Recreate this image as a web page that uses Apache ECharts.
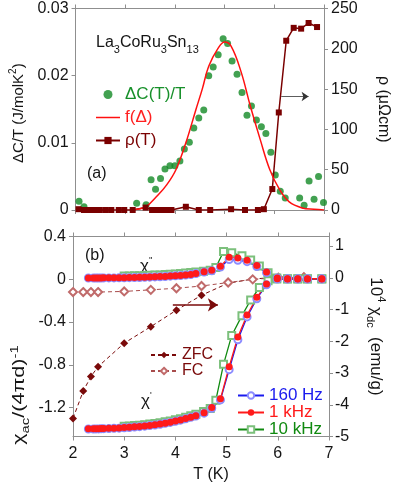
<!DOCTYPE html>
<html>
<head>
<meta charset="utf-8">
<script src="https://cdn.jsdelivr.net/npm/echarts@6/dist/echarts.min.js"></script>
<style>
html, body { margin: 0; padding: 0; background: #fff; }
#chart { width: 399px; height: 485px; }
</style>
</head>
<body>
<div id="chart"></div>
<script>
// ---- panel (a): specific heat, fit, resistivity ----
var dcT   = [2.07, 2.17, 3.23, 3.42, 3.52, 3.61, 3.71, 3.80, 3.90, 4.00, 4.10, 4.19, 4.29, 4.38, 4.48, 4.58, 4.68, 4.77, 4.87, 4.97, 5.06, 5.15, 5.25, 5.35, 5.45, 5.54, 5.64, 5.74, 5.83, 5.93, 6.02, 6.12, 6.22, 6.51, 6.60, 6.70, 6.80, 6.89, 6.99];
var dcVal = [0.0013, 0.0005, 0.0010, 0.0008, 0.0045, 0.0031, 0.0047, 0.0061, 0.0066, 0.0066, 0.0073, 0.0091, 0.0101, 0.0122, 0.0137, 0.0149, 0.0200, 0.0213, 0.0231, 0.0255, 0.0248, 0.0222, 0.0202, 0.0175, 0.0141, 0.0155, 0.0134, 0.0124, 0.0114, 0.0086, 0.0052, 0.0028, 0.0018, 0.0018, 0.0007, 0.0043, 0.0016, 0.0050, 0.0011];

var fitT   = [3.1, 3.3, 3.44, 3.63, 3.83, 4.02, 4.22, 4.42, 4.55, 4.68, 4.87, 5.0, 5.13, 5.33, 5.52, 5.72, 5.91, 6.11, 6.3, 6.56, 6.8, 7.0];
var fitVal = [0, 0.0002, 0.0006, 0.0020, 0.0037, 0.0060, 0.0100, 0.0149, 0.0180, 0.0214, 0.0241, 0.0250, 0.0244, 0.0206, 0.0154, 0.0104, 0.0060, 0.0030, 0.0012, 0.0003, 0.0001, 0];

var rhoT   = [2.06, 2.17, 2.28, 2.38, 2.49, 2.61, 2.72, 2.87, 2.98, 3.15, 3.41, 3.54, 3.63, 3.73, 3.83, 3.93, 4.22, 4.48, 4.71, 5.13, 5.41, 5.67, 5.79, 5.96, 6.09, 6.24, 6.39, 6.54, 6.69, 6.86];
var rhoVal = [1, 0, 0, 0, 0, 0, 0, 0, 0, 0, 3, 0, 0, 0, 0, 0, 4, 0, 0, 1, 0, 0, 1, 26, 121, 210, 226, 225, 232, 227];

// ---- panel (b): ac susceptibility (left axis) ----
var tAc = [2.3, 2.4, 2.45, 2.5, 2.55, 2.6, 2.7, 2.8, 2.9, 3.0, 3.1, 3.2, 3.3, 3.4, 3.5, 3.6, 3.7, 3.8, 3.9, 4.0, 4.1, 4.2, 4.3, 4.4, 4.56, 4.71, 4.88, 5.05, 5.22, 5.4, 5.59, 5.78, 5.99, 6.19, 6.39, 6.58, 6.86];
var chi2_1k = [0.013, 0.013, 0.013, 0.013, 0.013, 0.014, 0.014, 0.014, 0.015, 0.015, 0.016, 0.017, 0.018, 0.020, 0.021, 0.023, 0.025, 0.027, 0.030, 0.033, 0.036, 0.040, 0.045, 0.055, 0.070, 0.084, 0.122, 0.205, 0.198, 0.178, 0.130, 0.068, 0.012, 0.006, 0.006, 0.006, 0.006];
var chi2_160 = [0.012, 0.012, 0.012, 0.012, 0.012, 0.013, 0.013, 0.013, 0.014, 0.014, 0.015, 0.016, 0.017, 0.019, 0.020, 0.022, 0.024, 0.026, 0.029, 0.032, 0.035, 0.039, 0.044, 0.053, 0.067, 0.080, 0.115, 0.185, 0.178, 0.165, 0.120, 0.062, 0.011, 0.006, 0.006, 0.006, 0.006];
var chi1_1k = [-1.398, -1.398, -1.397, -1.397, -1.396, -1.395, -1.394, -1.392, -1.390, -1.387, -1.384, -1.380, -1.376, -1.371, -1.366, -1.360, -1.353, -1.345, -1.336, -1.326, -1.315, -1.302, -1.289, -1.276, -1.248, -1.200, -1.118, -0.818, -0.540, -0.334, -0.169, -0.044, 0.005, 0.003, 0.003, 0.003, 0.003];
var chi1_160 = [-1.400, -1.400, -1.399, -1.399, -1.398, -1.397, -1.396, -1.394, -1.392, -1.389, -1.386, -1.382, -1.378, -1.373, -1.368, -1.362, -1.355, -1.347, -1.338, -1.328, -1.317, -1.304, -1.291, -1.278, -1.252, -1.206, -1.128, -0.845, -0.565, -0.352, -0.182, -0.052, 0.003, 0.003, 0.003, 0.003, 0.003];

var t10k = [3.0, 3.1, 3.2, 3.3, 3.4, 3.5, 3.6, 3.7, 3.8, 3.9, 4.0, 4.1, 4.2, 4.3, 4.4, 4.55, 4.68, 4.79, 4.94, 5.1, 5.3, 5.47, 5.64, 5.81, 5.98, 6.19, 6.39, 6.58, 6.86];
var chi2_10k = [0.030, 0.031, 0.032, 0.033, 0.035, 0.037, 0.039, 0.041, 0.044, 0.047, 0.050, 0.054, 0.058, 0.063, 0.068, 0.075, 0.085, 0.110, 0.260, 0.248, 0.220, 0.180, 0.125, 0.060, 0.012, 0.005, 0.005, 0.005, 0.005];
var chi1_10k = [-1.375, -1.372, -1.368, -1.364, -1.359, -1.354, -1.348, -1.341, -1.333, -1.324, -1.314, -1.303, -1.290, -1.277, -1.263, -1.236, -1.208, -1.130, -0.795, -0.525, -0.340, -0.194, -0.078, -0.013, 0.003, 0.003, 0.003, 0.003, 0.003];

// ---- panel (b): dc susceptibility (right axis) ----
var tDc    = [2.0, 2.2, 2.35, 2.49, 3.0, 3.52, 4.02, 4.51, 5.03, 5.51, 6.01, 6.51];
var zfcVal = [-4.43, -3.57, -3.11, -2.80, -2.06, -1.54, -1.02, -0.55, -0.17, -0.04, 0.02, 0.04];
var fcVal  = [-0.45, -0.45, -0.45, -0.45, -0.43, -0.38, -0.33, -0.26, -0.15, -0.05, 0.0, 0.02];

// tick labels
var ticksChiAc = [-1.2, -0.8, -0.4, 0, 0.4];
var ticksChiDc = [-5, -4, -3, -2, -1, 0, 1];

function zip(xs, ys) {
    return xs.map(function (x, i) { return [x, ys[i]]; });
}

var font = 'Liberation Sans, Arial, Helvetica, sans-serif';
var gray = '#8f8f8f';
var ink = '#151515';

var richName = {
    a: { fontSize: 16, fontFamily: font, color: ink, lineHeight: 22 },
    s: { fontSize: 11, fontFamily: font, color: ink, verticalAlign: 'bottom' },
    p: { fontSize: 11, fontFamily: font, color: ink, verticalAlign: 'top' }
};

function xAxis(gridIndex, position, showLabel) {
    return {
        type: 'value', gridIndex: gridIndex, position: position,
        min: 2, max: 7, interval: 1,
        axisLine: { show: true, onZero: false, lineStyle: { color: gray } },
        axisTick: { show: true, inside: false, length: 4, lineStyle: { color: gray } },
        axisLabel: { show: showLabel, margin: 9, color: ink, fontSize: 16, fontFamily: font },
        splitLine: { show: false }
    };
}

function yAxis(gridIndex, position, extra) {
    var ax = {
        type: 'value', gridIndex: gridIndex, position: position,
        nameLocation: 'middle',
        nameTextStyle: { rich: richName },
        axisLine: { show: true, onZero: false, lineStyle: { color: gray } },
        axisTick: { show: true, inside: false, length: 4, lineStyle: { color: gray } },
        axisLabel: { margin: 7, color: ink, fontSize: 16, fontFamily: font },
        splitLine: { show: false }
    };
    for (var k in extra) ax[k] = extra[k];
    return ax;
}

var chart = echarts.init(document.getElementById('chart'), null, { renderer: 'canvas' });

var option = {
    animation: false,
    backgroundColor: '#fff',
    title: {
        text: '{a|La}{s|3}{a|CoRu}{s|3}{a|Sn}{s|13}',
        left: 91, top: 26,
        textStyle: { rich: {
            a: { fontSize: 16, fontFamily: font, color: ink, fontWeight: 'normal', lineHeight: 24 },
            s: { fontSize: 11, fontFamily: font, color: ink, fontWeight: 'normal', verticalAlign: 'bottom' }
        } }
    },
    grid: [
        { left: 73, right: 70, top: 8.5, height: 201.5 },
        { left: 73, right: 70, top: 236.5, height: 200 }
    ],
    xAxis: [
        xAxis(0, 'bottom', false),
        xAxis(0, 'top', false),
        (function () {
            var a = xAxis(1, 'bottom', true);
            a.name = 'T (K)';
            a.nameLocation = 'middle';
            a.nameGap = 30;
            a.nameTextStyle = { fontSize: 16, fontFamily: font, color: ink, padding: [0, 0, 0, 20] };
            return a;
        })(),
        xAxis(1, 'top', false)
    ],
    yAxis: [
        yAxis(0, 'left', {
            min: 0, max: 0.03, interval: 0.01,
            name: '{a|ΔC/T (J/molK}{p|2}{a|)}', nameGap: 38,
            nameTextStyle: { padding: [0, 8, 0, 0], rich: {
                a: { fontSize: 15, fontFamily: font, color: ink, lineHeight: 22 },
                p: { fontSize: 10, fontFamily: font, color: ink, verticalAlign: 'top' }
            } }
        }),
        yAxis(0, 'right', {
            min: 0, max: 250, interval: 50,
            name: '{a|ρ (μΩcm)}', nameGap: 48, nameRotate: -90
        }),
        yAxis(1, 'left', {
            min: -1.47, max: 0.4,
            axisLabel: { margin: 7, color: ink, fontSize: 16, fontFamily: font, customValues: ticksChiAc },
            axisTick: { show: true, inside: false, length: 4, lineStyle: { color: gray }, customValues: ticksChiAc }
        }),
        yAxis(1, 'right', {
            min: -5, max: 1.3,
            name: '{a|10}{p|4}{a| χ}{s|dc}{a|  (emu/g)}', nameGap: 36, nameRotate: -90,
            nameTextStyle: { rich: {
                a: { fontSize: 17, fontFamily: font, color: ink, lineHeight: 22 },
                s: { fontSize: 11, fontFamily: font, color: ink, verticalAlign: 'bottom' },
                p: { fontSize: 11, fontFamily: font, color: ink, verticalAlign: 'top' }
            } },
            axisLabel: { margin: 6, color: ink, fontSize: 16, fontFamily: font, customValues: ticksChiDc },
            axisTick: { show: true, inside: false, length: 4, lineStyle: { color: gray }, customValues: ticksChiDc }
        })
    ],
    legend: [
        {
            orient: 'vertical', left: 90, top: 78,
            itemWidth: 24, itemHeight: 9, itemGap: 0,
            textStyle: { fontSize: 17, fontFamily: font, lineHeight: 23 },
            data: [
                { name: 'ΔC(T)/T', textStyle: { color: '#17902a' } },
                { name: 'f(Δ)', icon: 'path://M0,0H24V1.5H0Z', itemStyle: { color: '#ff1010' }, textStyle: { color: '#ff2020' } },
                { name: 'ρ(T)', textStyle: { color: '#7a0000' } }
            ]
        },
        {
            orient: 'vertical', left: 145, top: 342,
            itemWidth: 26, itemHeight: 8, itemGap: 0,
            textStyle: { fontSize: 16, fontFamily: font, lineHeight: 16 },
            data: [
                { name: 'ZFC', textStyle: { color: '#7a0a0a' } },
                { name: 'FC', textStyle: { color: '#7a0a0a' } }
            ]
        },
        {
            orient: 'vertical', left: 232, top: 382,
            itemWidth: 26, itemHeight: 8, itemGap: 0,
            textStyle: { fontSize: 17, fontFamily: font, lineHeight: 15 },
            data: [
                { name: '160 Hz', textStyle: { color: '#1a1aee' } },
                { name: '1 kHz', textStyle: { color: '#ff1a1a' } },
                { name: '10 kHz', textStyle: { color: '#108a10' } }
            ]
        }
    ],
    graphic: [
        { type: 'text', left: 87, top: 166, style: { text: '(a)', font: '16px ' + font, fill: ink } },
        { type: 'text', left: 85, top: 248, style: { text: '(b)', font: '16px ' + font, fill: ink } },
        { type: 'text', left: 140, top: 256, style: {
            text: '{a|χ}{p|\'\'}', rich: {
                a: { fontSize: 17, fontFamily: font, fill: ink, lineHeight: 20 },
                p: { fontSize: 9, fontFamily: font, fill: ink, verticalAlign: 'top' }
            } } },
        { type: 'text', left: 141, top: 391, style: {
            text: '{a|χ}{p|\'}', rich: {
                a: { fontSize: 17, fontFamily: font, fill: ink, lineHeight: 20 },
                p: { fontSize: 9, fontFamily: font, fill: ink, verticalAlign: 'top' }
            } } },
        // left axis title of panel (b), stretched along its length like the original
        { type: 'text', x: 20, y: 395, rotation: Math.PI / 2, scaleX: 1.35, style: {
            text: '{a|χ}{s|ac}{a|/(4πd)}{p|-1}', align: 'center', verticalAlign: 'middle', rich: {
                a: { fontSize: 16, fontFamily: font, fill: ink, lineHeight: 22 },
                s: { fontSize: 11, fontFamily: font, fill: ink, verticalAlign: 'bottom' },
                p: { fontSize: 11, fontFamily: font, fill: ink, verticalAlign: 'top' }
            } } }
    ],
    series: [
        {
            name: 'ρ(T)', type: 'line', xAxisIndex: 0, yAxisIndex: 1,
            data: zip(rhoT, rhoVal),
            symbol: 'rect', symbolSize: 6,
            itemStyle: { color: '#7a0000' },
            lineStyle: { color: '#7a0000', width: 1.5 }
        },
        {
            name: 'f(Δ)', type: 'line', xAxisIndex: 0, yAxisIndex: 0,
            data: zip(fitT, fitVal),
            smooth: 0.4, symbol: 'none',
            itemStyle: { color: '#ff1010' },
            lineStyle: { color: '#ff1010', width: 1.5 }
        },
        {
            name: 'ΔC(T)/T', type: 'scatter', xAxisIndex: 0, yAxisIndex: 0,
            data: zip(dcT, dcVal),
            symbol: 'circle', symbolSize: 7,
            itemStyle: { color: '#138a26' },
            markLine: {
                silent: true, symbol: ['none', 'arrow'], symbolSize: 7,
                label: { show: false },
                lineStyle: { color: '#333', width: 0.8, type: 'solid' },
                data: [[{ coord: [6.14, 0.0169] }, { coord: [6.69, 0.0169] }]]
            }
        },
        {
            name: 'ZFC', type: 'line', xAxisIndex: 2, yAxisIndex: 3,
            data: zip(tDc, zfcVal),
            symbol: 'diamond', symbolSize: 8,
            itemStyle: { color: '#7a0a0a' },
            lineStyle: { color: '#7a0a0a', width: 1, type: [4, 3] }
        },
        {
            name: 'FC', type: 'line', xAxisIndex: 2, yAxisIndex: 3,
            data: zip(tDc, fcVal),
            symbol: 'emptyDiamond', symbolSize: 8,
            itemStyle: { color: '#c06a6a', borderWidth: 1 },
            lineStyle: { color: '#a84c4c', width: 1, type: [4, 3] }
        },
        {
            name: '10 kHz', type: 'line', xAxisIndex: 2, yAxisIndex: 2,
            data: zip(t10k, chi2_10k),
            symbol: 'emptyRect', symbolSize: 7,
            itemStyle: { color: '#7cc07c', borderWidth: 1 },
            lineStyle: { color: '#108a10', width: 1.3 }
        },
        {
            name: '10 kHz', type: 'line', xAxisIndex: 2, yAxisIndex: 2,
            data: zip(t10k, chi1_10k),
            symbol: 'emptyRect', symbolSize: 7,
            itemStyle: { color: '#7cc07c', borderWidth: 1 },
            lineStyle: { color: '#108a10', width: 1.3 }
        },
        {
            name: '160 Hz', type: 'line', xAxisIndex: 2, yAxisIndex: 2,
            data: zip(tAc, chi2_160),
            symbol: 'emptyCircle', symbolSize: 7,
            itemStyle: { color: '#8c8cff', borderWidth: 1 },
            lineStyle: { color: '#1a1aee', width: 1.3 }
        },
        {
            name: '160 Hz', type: 'line', xAxisIndex: 2, yAxisIndex: 2,
            data: zip(tAc, chi1_160),
            symbol: 'emptyCircle', symbolSize: 7,
            itemStyle: { color: '#8c8cff', borderWidth: 1 },
            lineStyle: { color: '#1a1aee', width: 1.3 }
        },
        {
            name: '1 kHz', type: 'line', xAxisIndex: 2, yAxisIndex: 2,
            data: zip(tAc, chi2_1k),
            symbol: 'circle', symbolSize: 7,
            itemStyle: { color: '#ff1a1a' },
            lineStyle: { color: '#ff1a1a', width: 1.3 }
        },
        {
            name: '1 kHz', type: 'line', xAxisIndex: 2, yAxisIndex: 2,
            data: zip(tAc, chi1_1k),
            symbol: 'circle', symbolSize: 7,
            itemStyle: { color: '#ff1a1a' },
            lineStyle: { color: '#ff1a1a', width: 1.3 },
            markLine: {
                silent: true, symbol: ['none', 'arrow'], symbolSize: 10,
                label: { show: false },
                lineStyle: { color: '#7a0a0a', width: 1.5, type: 'solid' },
                data: [[{ coord: [3.95, -0.24] }, { coord: [4.83, -0.24] }]]
            }
        }
    ]
};

chart.setOption(option);
</script>
</body>
</html>
